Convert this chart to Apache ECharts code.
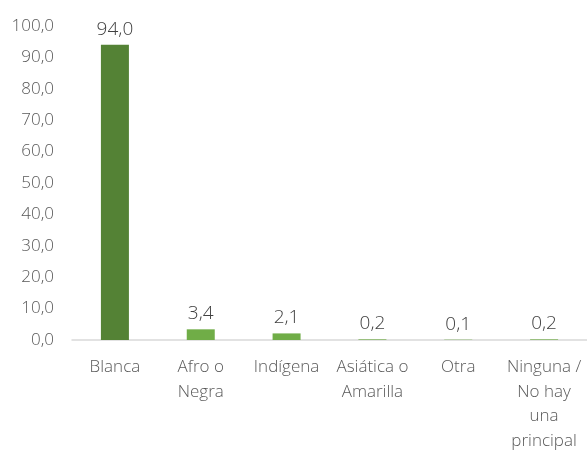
<!DOCTYPE html>
<html><head><meta charset="utf-8">
<script src="https://cdn.jsdelivr.net/npm/echarts@6/dist/echarts.min.js"></script>
<style>html,body{margin:0;padding:0;background:#fff}#c{width:587px;height:450px}</style>
</head><body><div id="c"></div>
<script>
const categories = ["Blanca", "Afro o\nNegra", "Indígena", "Asiática o\nAmarilla", "Otra", "Ninguna /\nNo hay\nuna\nprincipal"];
const values = [94.0, 3.4, 2.1, 0.2, 0.1, 0.2];
const barColors = ["#548235", "#70AD47", "#70AD47", "#70AD47", "#70AD47", "#70AD47"];
const fmt = v => v.toFixed(1).replace('.', ',');
const chart = echarts.init(document.getElementById('c'));
chart.setOption({
  animation: false,
  grid: {left: 72, right: 0, top: 26, bottom: 110, outerBoundsMode: 'none', containLabel: false},
  xAxis: {
    type: 'category', data: categories,
    axisLine: {lineStyle: {color: '#D9D9D9', width: 1.5}},
    axisTick: {show: false},
    axisLabel: {color: '#595959', fontFamily: 'Open Sans', fontWeight: 300, fontSize: 17, lineHeight: 24.5, margin: 15, interval: 0}
  },
  yAxis: {
    type: 'value', min: 0, max: 100, interval: 10,
    splitLine: {show: false},
    axisLine: {show: false}, axisTick: {show: false},
    axisLabel: {color: '#595959', fontFamily: 'Open Sans', fontWeight: 300, fontSize: 17, margin: 18, formatter: fmt}
  },
  series: [{
    type: 'bar', barWidth: 28,
    data: values.map((v, i) => ({value: v, itemStyle: {color: barColors[i]}})),
    label: {show: true, position: 'top', distance: 6, color: '#404040', fontFamily: 'Open Sans', fontWeight: 300, fontSize: 19, formatter: p => fmt(p.value)}
  }]
});
</script></body></html>
